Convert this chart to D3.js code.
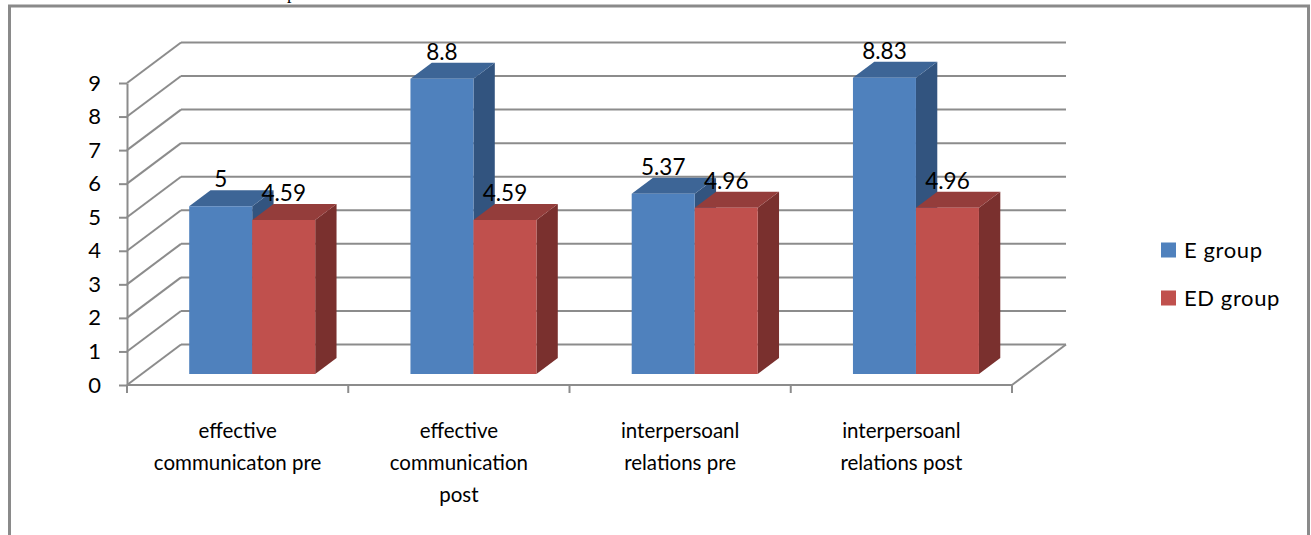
<!DOCTYPE html>
<html><head><meta charset="utf-8">
<script src="https://cdn.jsdelivr.net/npm/d3@7"></script>
<style>
html,body{margin:0;padding:0;background:#fff;}
svg{display:block;}
</style></head>
<body>
<svg id="chart" width="1311" height="535"></svg>
<script>
const categories = ["effective communicaton pre","effective communication post","interpersoanl relations pre","interpersoanl relations post"];
const categoryLines = [["effective","communicaton pre"],["effective","communication","post"],["interpersoanl","relations pre"],["interpersoanl","relations post"]];
const seriesNames = ["E group","ED group"];
const eGroup = [5, 8.8, 5.37, 8.83];
const edGroup = [4.59, 4.59, 4.96, 4.96];
const yTicks = [0,1,2,3,4,5,6,7,8,9];
const labelE = ["5","8.8","5.37","8.83"];
const labelED = ["4.59","4.59","4.96","4.96"];

const seriesValues = [eGroup, edGroup];
const seriesLabels = [labelE, labelED];
const colors = [
  {front:"#4F81BD", top:"#3D6596", side:"#32547F"},
  {front:"#C0504D", top:"#943D3B", side:"#7A302E"}
];

const svg = d3.select("#chart");
const font = "Lato, 'Open Sans', sans-serif";
const grid = "#8c8c8c";

// partially visible caption at top (cut off by the page edge, as in the reference)
svg.append("text").attr("x",40).attr("y",-1).attr("font-family","'Liberation Serif', serif")
  .attr("font-size",18).attr("fill","#000").text("effective communication and interpersonal relations");

// outer frame
svg.append("rect").attr("x",9.5).attr("y",6).attr("width",1299).attr("height",540)
  .attr("fill","none").attr("stroke","#8a8a8a").attr("stroke-width",3);

const x0 = 127, x1 = 1012, yBase = 385;
const x = d3.scaleBand().domain(categories).range([x0, x1]);
const y = d3.scaleLinear().domain([0,9]).range([yBase, 83]);
const DX = 54, DY = -40.5;
const P = (xf, v, z) => [xf + DX*z, y(v) + DY*z];
const inner = d3.scaleBand().domain(seriesNames).range([0, x.bandwidth()]).paddingOuter(0.756).paddingInner(0);
const zA = 0.27, zB = 0.665;

const g = svg.append("g");
// back wall gridlines and side wall diagonals
yTicks.forEach(t => {
  const a = P(x0, t, 1), b = P(x1, t, 1);
  g.append("line").attr("x1",a[0]).attr("y1",a[1]).attr("x2",b[0]).attr("y2",b[1])
    .attr("stroke",grid).attr("stroke-width",2);
  const c = P(x0, t, 0);
  g.append("line").attr("x1",c[0]).attr("y1",c[1]).attr("x2",a[0]).attr("y2",a[1])
    .attr("stroke",grid).attr("stroke-width",2);
});
// floor right edge
{
  const a = P(x1, 0, 0), b = P(x1, 0, 1);
  g.append("line").attr("x1",a[0]).attr("y1",a[1]).attr("x2",b[0]).attr("y2",b[1])
    .attr("stroke",grid).attr("stroke-width",2);
}

// bars
const line = d3.line();
categories.forEach((c, i) => {
  seriesNames.forEach((s, j) => {
    const v = seriesValues[j][i];
    const xl = x(c) + inner(s), xr = xl + inner.bandwidth();
    const col = colors[j];
    const fTL = P(xl, v, zA), fTR = P(xr, v, zA), fBR = P(xr, 0, zA), fBL = P(xl, 0, zA);
    const bTL = P(xl, v, zB), bTR = P(xr, v, zB), bBR = P(xr, 0, zB);
    g.append("path").attr("d", line([fTR, bTR, bBR, fBR]) + "Z").attr("fill", col.side);
    g.append("path").attr("d", line([fTL, bTL, bTR, fTR]) + "Z").attr("fill", col.top);
    g.append("path").attr("d", line([fTL, fTR, fBR, fBL]) + "Z").attr("fill", col.front);
    const lx = (xl + xr)/2 + DX*zA;
    g.append("text").attr("x", lx).attr("y", bTL[1] - 3).attr("text-anchor","middle")
      .attr("font-family", font).attr("font-size", 22.5).attr("fill","#000").text(seriesLabels[j][i]);
  });
});

// y axis
const yAxis = d3.axisLeft(y).tickValues(yTicks).tickSize(8).tickSizeOuter(0).tickPadding(18);
const ya = svg.append("g").attr("transform", `translate(${x0},0)`).call(yAxis);
ya.select(".domain").attr("stroke", grid).attr("stroke-width", 2);
ya.selectAll(".tick line").attr("stroke", grid).attr("stroke-width", 2);
ya.selectAll(".tick text").attr("font-family", font).attr("font-size", 22).attr("fill", "#000");

// x axis line + ticks at band boundaries
svg.append("line").attr("x1", x0).attr("x2", x1).attr("y1", yBase).attr("y2", yBase)
  .attr("stroke", grid).attr("stroke-width", 2);
const bounds = categories.map(c => x(c)).concat([x1]);
bounds.forEach(b => {
  svg.append("line").attr("x1", b).attr("x2", b).attr("y1", yBase).attr("y2", yBase + 8)
    .attr("stroke", grid).attr("stroke-width", 2);
});
categories.forEach((c, i) => {
  const t = svg.append("text").attr("x", x(c) + x.bandwidth()/2).attr("y", 438)
    .attr("text-anchor", "middle").attr("font-family", font).attr("font-size", 20.5).attr("fill", "#000");
  categoryLines[i].forEach((ln, k) => {
    t.append("tspan").attr("x", x(c) + x.bandwidth()/2).attr("y", 438 + k*32).text(ln);
  });
});

// legend
seriesNames.forEach((s, j) => {
  const ly = 250 + j*48;
  svg.append("rect").attr("x", 1161).attr("y", ly - 7.5).attr("width", 15).attr("height", 15).attr("fill", colors[j].front);
  svg.append("text").attr("x", 1184).attr("y", ly + 8).attr("font-family", font).attr("font-size", 22)
    .attr("letter-spacing", 0.6).attr("fill", "#000").text(s);
});
</script>
</body></html>
